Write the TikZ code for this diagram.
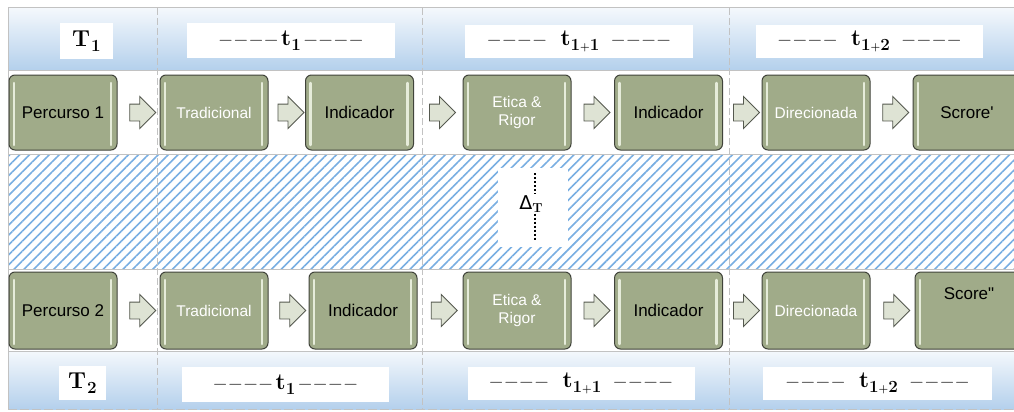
\documentclass[tikz,border=0pt]{standalone}
\usepackage{fontspec}
\setsansfont{Liberation Sans}
\newfontfamily\dejavu{DejaVu Sans}
\usetikzlibrary{shapes.arrows,patterns.meta,calc}

\definecolor{boxgreen}{HTML}{A0AB89}
\definecolor{boxedge}{HTML}{40433A}
\definecolor{boxgloss}{HTML}{E6ECDA}
\definecolor{arrowfill}{HTML}{DEE3D4}
\definecolor{arrowedge}{HTML}{55594F}
\definecolor{bandtop}{HTML}{F4F8FC}
\definecolor{bandbot}{HTML}{B4D0EC}
\definecolor{hatchblue}{HTML}{78AEE2}
\definecolor{rulegray}{HTML}{C2C2C2}

% a run of four dashes and a bold period symbol with its index
\newcommand\dashrun{{\fontsize{19}{22}\selectfont −\kern1.5pt−\kern1.5pt−\kern1.5pt−}}
\newcommand\sub[1]{\raisebox{-5pt}{\fontsize{17}{19}\selectfont\bfseries #1}}
\newcommand\plus{{\fontsize{11}{13}\selectfont\bfseries +}}

\tikzset{
  stage/.style={rounded corners=6pt, draw=boxedge, line width=1pt, fill=boxgreen,
    minimum width=108pt, minimum height=75pt, inner sep=1pt, align=center,
    path picture={
      \draw[boxgloss, line width=2.5pt, line cap=round]
        ([xshift=5pt,yshift=-8pt]path picture bounding box.north west) --
        ([xshift=5pt,yshift=5pt]path picture bounding box.south west);
      \draw[boxgloss, line width=2.5pt, line cap=round]
        ([xshift=-6pt,yshift=-8pt]path picture bounding box.north east) --
        ([xshift=-6pt,yshift=5pt]path picture bounding box.south east);
    }},
  darkstage/.style={stage, text=black, font=\sffamily\fontsize{17}{20}\selectfont},
  lightstage/.style={stage, text=white, font=\sffamily\fontsize{15.5}{18}\selectfont},
  lowrow/.style={minimum height=77pt},
  flow/.style={single arrow, draw=arrowedge, fill=arrowfill, line width=0.9pt,
    minimum height=26pt, single arrow head extend=7.5pt, inner xsep=0pt, inner ysep=8pt},
  tag/.style={fill=white, inner sep=0pt, font=\fontsize{23}{26}\selectfont},
  band/.style={top color=bandtop, bottom color=bandbot},
  divider/.style={rulegray, line width=1pt, dash pattern=on 7pt off 3pt},
  hrule/.style={rulegray, line width=1pt},
}

\begin{document}
\begin{tikzpicture}[x=1pt,y=-1pt]
\useasboundingbox (0,0) rectangle (1014,412);
\fill[white] (0,0) rectangle (1014,412);

% header bands
\shade[band] (8,8) rectangle (1014,70);
\shade[band] (8,351) rectangle (1014,409);

% hatched gap between the two routes
\fill[pattern={Lines[angle=45,distance=7pt,line width=1.6pt]}, pattern color=hatchblue]
  (8,155) rectangle (1014,268);

% frame lines
\draw[hrule] (8,8) -- (1014,8);
\draw[hrule] (8,70) -- (1014,70);
\draw[hrule] (8,154) -- (1014,154);
\draw[hrule] (8,269) -- (1014,269);
\draw[hrule] (8,351) -- (1014,351);
\draw[rulegray, line width=1.5pt, dash pattern=on 9pt off 3pt] (8,409.5) -- (1014,409.5);
\draw[hrule] (8,8) -- (8,409);

% period dividers
\foreach \x in {157,422,729} \draw[divider] (\x,8) -- (\x,409);

% period labels, top
\node[tag, minimum width=53pt, minimum height=36pt] (hT) at (86.5,41) {\bfseries T\kern1pt\sub{1}};
\node[tag, minimum width=208pt, minimum height=35pt] (ha) at (291,40.5) {\dashrun\kern3pt\textbf{t}\sub{1}\kern3pt\dashrun};
\node[tag, minimum width=228pt, minimum height=33pt] (hb) at (579,41.5) {\dashrun\hspace{14pt}\textbf{t}\sub{1\plus1}\hspace{12pt}\dashrun};
\node[tag, minimum width=227pt, minimum height=33pt] (hc) at (869.5,41.5) {\dashrun\hspace{14pt}\textbf{t}\sub{1\plus2}\hspace{12pt}\dashrun};

% period labels, bottom
\node[tag, minimum width=47pt, minimum height=34pt] (bT) at (82.5,383) {\bfseries T\kern1pt\sub{2}};
\node[tag, minimum width=207pt, minimum height=35pt] (ba) at (285.5,384.5) {\dashrun\kern3pt\textbf{t}\sub{1}\kern3pt\dashrun};
\node[tag, minimum width=227pt, minimum height=33pt] (bb) at (581,383.5) {\dashrun\hspace{14pt}\textbf{t}\sub{1\plus1}\hspace{12pt}\dashrun};
\node[tag, minimum width=229pt, minimum height=33pt] (bc) at (877.5,383.5) {\dashrun\hspace{14pt}\textbf{t}\sub{1\plus2}\hspace{12pt}\dashrun};

% time difference marker
\fill[white] (498,168) rectangle (568,247);
\coordinate (dtop) at (535,173);
\coordinate (dbot) at (535,241);
\node[inner sep=1pt] (dT) at (531,204)
  {{\dejavu\fontsize{19}{22}\selectfont Δ}\raisebox{-3pt}{\fontsize{13}{15}\selectfont\bfseries T}};
\draw[line width=1.6pt, dash pattern=on 2pt off 2pt] (dtop) -- (dtop |- dT.north);
\draw[line width=1.6pt, dash pattern=on 2pt off 2pt] (dT.south -| dbot) -- (dbot);

% route 1
\node[darkstage]  (a1) at (63,112.5)  {Percurso 1};
\node[lightstage] (a2) at (214,112.5) {Tradicional};
\node[darkstage]  (a3) at (359.5,112.5) {Indicador};
\node[lightstage] (a4) at (517,112.5) {Etica \&\\Rigor};
\node[darkstage]  (a5) at (668.5,112.5) {Indicador};
\node[lightstage] (a6) at (816,112.5) {Direcionada};
\node[darkstage]  (a7) at (967,112.5) {Scrore\textquotesingle};

% route 2
\node[darkstage, lowrow]  (b1) at (63,310.5)  {Percurso 2};
\node[lightstage, lowrow] (b2) at (214,310.5) {Tradicional};
\node[darkstage, lowrow]  (b3) at (363,310.5) {Indicador};
\node[lightstage, lowrow] (b4) at (517,310.5) {Etica \&\\Rigor};
\node[darkstage, lowrow]  (b5) at (668.5,310.5) {Indicador};
\node[lightstage, lowrow] (b6) at (816,310.5) {Direcionada};
\node[darkstage, lowrow,
  label={[anchor=north, font=\sffamily\fontsize{17}{20}\selectfont, yshift=-13pt]north:Score\textquotedbl}]
  (b7) at (969,310.5) {};

% step arrows
\foreach \r in {a,b} {
  \foreach \i [evaluate=\i as \j using int(\i+1)] in {1,...,6} {
    \node[flow] (\r\i arrow) at ($(\r\i.east)!0.5!(\r\j.west)$) {};
  }
}
\end{tikzpicture}
\end{document}
